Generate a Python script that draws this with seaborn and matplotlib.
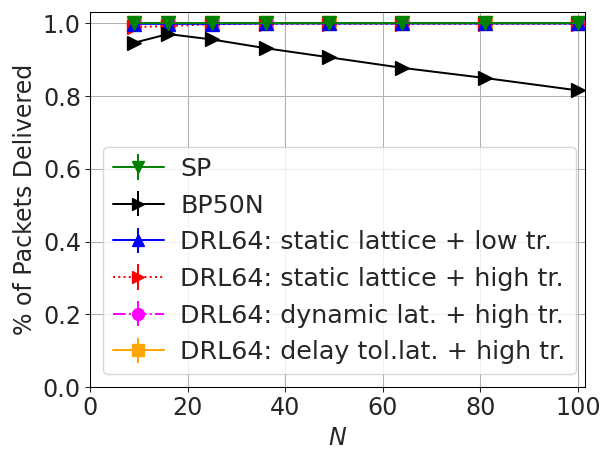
import matplotlib
matplotlib.use("Agg")
import matplotlib.pyplot as plt
import seaborn as sns
import numpy as np

N = [9, 16, 25, 36, 49, 64, 81, 100]
sp = [1.0, 1.0, 1.0, 1.0, 1.0, 1.0, 1.0, 1.0]
bp50n = [0.947, 0.971, 0.956, 0.932, 0.907, 0.878, 0.850, 0.816]
drl_static_low = [0.999, 0.999, 0.999, 1.0, 1.0, 1.0, 1.0, 1.0]
drl_static_high = [0.990, 0.993, 0.998, 0.999, 0.999, 0.999, 0.999, 0.999]
drl_dynamic_high = [1.0, 1.0, 1.0, 1.0, 1.0, 1.0, 1.0, 1.0]
drl_delaytol_high = [1.0, 1.0, 1.0, 1.0, 1.0, 1.0, 1.0, 1.0]
err = [0.002, 0.002, 0.002, 0.002, 0.002, 0.002, 0.002, 0.002]

labels = ["SP", "BP50N", "DRL64: static lattice + low tr.",
          "DRL64: static lattice + high tr.", "DRL64: dynamic lat. + high tr.",
          "DRL64: delay tol.lat. + high tr."]

sns.set_style("ticks", {"axes.grid": True, "grid.color": "#b0b0b0",
                        "axes.edgecolor": "black", "xtick.direction": "out",
                        "ytick.direction": "out"})
plt.rcParams["font.family"] = ["DejaVu Sans"]
plt.rcParams["font.size"] = 18
plt.rcParams["grid.linewidth"] = 0.8

fig = plt.figure(figsize=(609/95, 456/95), dpi=95)
ax = fig.add_axes([0.148, 0.151, 0.813, 0.823])

series = [
    (drl_delaytol_high, dict(color="orange", marker="s", ls="-"), 5),
    (drl_dynamic_high, dict(color="magenta", marker="o", ls="-."), 4),
    (drl_static_high, dict(color="red", marker=">", ls=":"), 3),
    (drl_static_low, dict(color="blue", marker="^", ls="-"), 2),
    (bp50n, dict(color="black", marker=">", ls="-"), 1),
    (sp, dict(color="green", marker="v", ls="-"), 0),
]
handles = [None] * 6
for y, st, idx in series:
    h = ax.errorbar(N, y, yerr=err, color=st["color"], marker=st["marker"],
                    linestyle=st["ls"], markersize=10, linewidth=1.5,
                    elinewidth=1.5, label=labels[idx])
    handles[idx] = h

ax.set_xlim(0, 101.5)
ax.set_ylim(0, 1.032)
ax.set_xticks([0, 20, 40, 60, 80, 100])
ax.set_yticks([0.0, 0.2, 0.4, 0.6, 0.8, 1.0])
ax.set_xlabel("$N$", fontsize=18)
ax.set_ylabel("% of Packets Delivered", fontsize=18)
ax.tick_params(labelsize=18)
ax.legend(handles, labels, loc="lower left", fontsize=19.2,
          handlelength=2.0, labelspacing=0.5, borderpad=0.4,
          handletextpad=0.65, borderaxespad=0.5, markerscale=0.9)
fig.savefig("out.png", dpi=95)
